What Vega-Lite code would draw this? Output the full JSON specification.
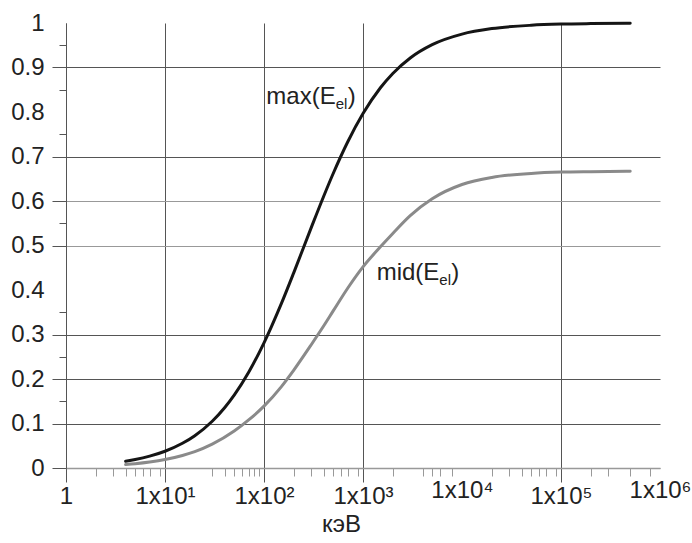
{
  "$schema": "https://vega.github.io/schema/vega-lite/v6.json",
  "width": 594,
  "height": 445,
  "autosize": {"type": "none"},
  "padding": {"left": 66, "top": 23, "right": 32, "bottom": 75},
  "background": "#ffffff",
  "config": {"view": {"stroke": null}, "font": "Liberation Sans"},
  "encoding": {
    "x": {
      "field": "E",
      "type": "quantitative",
      "scale": {"type": "log", "domain": [1, 1000000], "nice": false},
      "axis": {
        "title": "кэВ",
        "titleFont": "Liberation Sans",
        "titleFontSize": 24,
        "titleFontWeight": "normal",
        "titleColor": "#222222",
        "titlePadding": 4,
        "titleX": 275,
        "titleAlign": "center",
        "values": [1, 2, 3, 4, 5, 6, 7, 9, 10, 30, 40, 50, 60, 70, 80, 90, 100, 200, 300, 400, 500, 600, 700, 900, 1000, 2000, 4000, 5000, 6000, 8000, 10000, 20000, 30000, 40000, 50000, 60000, 70000, 90000, 100000, 200000, 300000, 500000, 800000, 1000000],
        "labelExpr": "datum.value == 1 ? '1' : datum.value == 10 ? '1x10¹' : datum.value == 100 ? '1x10²' : datum.value == 1000 ? '1x10³' : datum.value == 10000 ? '1x10⁴' : datum.value == 100000 ? '1x10⁵' : datum.value == 1000000 ? '1x10⁶' : ''",
        "labelFont": "Liberation Sans",
        "labelFontSize": 24,
        "labelColor": "#222222",
        "labelPadding": 2,
        "labelOverlap": false,
        "labelFlush": false,
        "grid": true,
        "gridColor": "#555555",
        "gridWidth": 1,
        "gridOpacity": {"condition": {"test": "indexof([1,10,100,1000,100000], datum.value) >= 0", "value": 1}, "value": 0},
        "tickSize": {"condition": {"test": "indexof([1,10,100,1000,100000], datum.value) >= 0", "value": 14}, "value": 8},
        "tickOpacity": {"condition": {"test": "datum.value == 10000 || datum.value == 1000000", "value": 0}, "value": 1},
        "tickColor": {"condition": {"test": "indexof([1,10,100,1000,100000], datum.value) >= 0", "value": "#555555"}, "value": "#999999"},
        "domainColor": "#999999",
        "domainWidth": 1.5
      }
    },
    "y": {
      "field": "v",
      "type": "quantitative",
      "scale": {"domain": [0, 1], "nice": false},
      "axis": {
        "title": null,
        "values": [0, 0.1, 0.15, 0.2, 0.25, 0.3, 0.35, 0.4, 0.5, 0.55, 0.6, 0.7, 0.75, 0.8, 0.85, 0.9, 0.95, 1],
        "labelExpr": "indexof([0.15,0.25,0.35,0.55,0.75,0.85,0.95], datum.value) >= 0 ? '' : format(datum.value, '~g')",
        "labelFont": "Liberation Sans",
        "labelFontSize": 24,
        "labelColor": "#222222",
        "labelPadding": 8,
        "labelOverlap": false,
        "labelFlush": false,
        "grid": true,
        "gridColor": {"condition": {"test": "indexof([0,0.5,0.6], datum.value) >= 0", "value": "#999999"}, "value": "#555555"},
        "gridOpacity": {"condition": {"test": "indexof([0.4,0.8,1,0.15,0.25,0.35,0.55,0.75,0.85,0.95], datum.value) >= 0", "value": 0}, "value": 1},
        "tickSize": {"condition": {"test": "indexof([0.15,0.25,0.35,0.55,0.75,0.85,0.95], datum.value) >= 0", "value": 7}, "value": 14},
        "tickOpacity": {"condition": {"test": "indexof([0.4,0.8,1], datum.value) >= 0", "value": 0}, "value": 1},
        "tickColor": "#555555",
        "domainColor": "#555555",
        "domainWidth": 1
      }
    }
  },
  "layer": [
    {
      "data": {
        "values": [
          {"series": "max", "E": 4, "v": 0.0154},
          {"series": "max", "E": 5, "v": 0.0192},
          {"series": "max", "E": 7, "v": 0.0267},
          {"series": "max", "E": 10, "v": 0.0377},
          {"series": "max", "E": 15, "v": 0.0555},
          {"series": "max", "E": 20, "v": 0.0726},
          {"series": "max", "E": 30, "v": 0.1051},
          {"series": "max", "E": 40, "v": 0.1354},
          {"series": "max", "E": 50, "v": 0.1637},
          {"series": "max", "E": 70, "v": 0.2151},
          {"series": "max", "E": 100, "v": 0.2813},
          {"series": "max", "E": 150, "v": 0.3699},
          {"series": "max", "E": 200, "v": 0.4391},
          {"series": "max", "E": 300, "v": 0.5401},
          {"series": "max", "E": 400, "v": 0.6102},
          {"series": "max", "E": 500, "v": 0.6618},
          {"series": "max", "E": 700, "v": 0.7326},
          {"series": "max", "E": 1000, "v": 0.7965},
          {"series": "max", "E": 1500, "v": 0.8545},
          {"series": "max", "E": 2000, "v": 0.8867},
          {"series": "max", "E": 3000, "v": 0.9215},
          {"series": "max", "E": 5000, "v": 0.9514},
          {"series": "max", "E": 10000, "v": 0.9751},
          {"series": "max", "E": 20000, "v": 0.9874},
          {"series": "max", "E": 50000, "v": 0.9949},
          {"series": "max", "E": 100000, "v": 0.9975},
          {"series": "max", "E": 200000, "v": 0.9987},
          {"series": "max", "E": 500000, "v": 0.9995},
          {"series": "mid", "E": 4, "v": 0.0078},
          {"series": "mid", "E": 5, "v": 0.0097},
          {"series": "mid", "E": 7, "v": 0.0135},
          {"series": "mid", "E": 10, "v": 0.019},
          {"series": "mid", "E": 15, "v": 0.0282},
          {"series": "mid", "E": 20, "v": 0.0368},
          {"series": "mid", "E": 30, "v": 0.0536},
          {"series": "mid", "E": 50, "v": 0.083},
          {"series": "mid", "E": 70, "v": 0.108},
          {"series": "mid", "E": 100, "v": 0.139},
          {"series": "mid", "E": 150, "v": 0.183},
          {"series": "mid", "E": 200, "v": 0.220},
          {"series": "mid", "E": 300, "v": 0.277},
          {"series": "mid", "E": 400, "v": 0.319},
          {"series": "mid", "E": 500, "v": 0.353},
          {"series": "mid", "E": 700, "v": 0.404},
          {"series": "mid", "E": 1000, "v": 0.452},
          {"series": "mid", "E": 1500, "v": 0.497},
          {"series": "mid", "E": 2000, "v": 0.527},
          {"series": "mid", "E": 3000, "v": 0.567},
          {"series": "mid", "E": 5000, "v": 0.605},
          {"series": "mid", "E": 10000, "v": 0.637},
          {"series": "mid", "E": 20000, "v": 0.653},
          {"series": "mid", "E": 50000, "v": 0.662},
          {"series": "mid", "E": 100000, "v": 0.665},
          {"series": "mid", "E": 200000, "v": 0.666},
          {"series": "mid", "E": 500000, "v": 0.6667}
        ]
      },
      "mark": {"type": "line", "strokeWidth": 3, "interpolate": "monotone", "strokeCap": "round"},
      "encoding": {
        "color": {"field": "series", "type": "nominal", "scale": {"domain": ["max", "mid"], "range": ["#151515", "#8a8a8a"]}, "legend": null}
      }
    },
    {
      "data": {"values": [{"E": 530, "v": 0.818, "t": "max(E"}, {"E": 5900, "v": 0.422, "t": "mid(E"}]},
      "mark": {"type": "text", "align": "right", "baseline": "alphabetic", "fontSize": 24, "font": "Liberation Sans", "color": "#222222"},
      "encoding": {"text": {"field": "t"}}
    },
    {
      "data": {"values": [{"E": 530, "v": 0.818, "t": "el"}, {"E": 5900, "v": 0.422, "t": "el"}]},
      "mark": {"type": "text", "align": "left", "baseline": "alphabetic", "fontSize": 15, "dx": 0, "dy": 5, "font": "Liberation Sans", "color": "#222222"},
      "encoding": {"text": {"field": "t"}}
    },
    {
      "data": {"values": [{"E": 530, "v": 0.818, "t": ")"}, {"E": 5900, "v": 0.422, "t": ")"}]},
      "mark": {"type": "text", "align": "left", "baseline": "alphabetic", "fontSize": 24, "dx": 12, "font": "Liberation Sans", "color": "#222222"},
      "encoding": {"text": {"field": "t"}}
    }
  ]
}
